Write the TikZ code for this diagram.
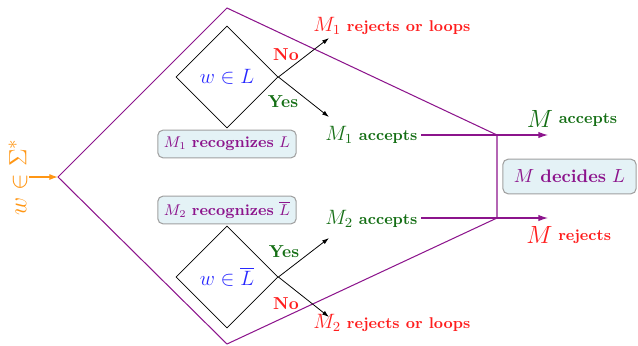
\documentclass[tikz,border=0pt]{standalone}
\usetikzlibrary{shapes.geometric,arrows.meta}
\definecolor{mpurple}{RGB}{140,20,140}
\definecolor{mgreen}{RGB}{20,110,20}
\definecolor{mred}{RGB}{255,30,30}
\definecolor{mblue}{RGB}{40,40,255}
\definecolor{morange}{RGB}{255,150,20}
\definecolor{boxfill}{RGB}{228,242,246}
\definecolor{boxdraw}{RGB}{160,160,160}
\begin{document}
\begin{tikzpicture}[x=0.578pt,y=-0.578pt,
  purp/.style={draw=mpurple,line width=0.6pt},
  purparrow/.style={purp,-{Latex[length=5.5pt,width=3.6pt]}},
  blackarrow/.style={draw=black,line width=0.45pt,-{Latex[length=4pt,width=2.6pt]}},
  decision/.style={diamond,draw=black,line width=0.45pt,minimum width=59pt,minimum height=59pt,inner sep=0pt,text=mblue,font=\fontsize{13}{15}\selectfont},
  infobox/.style={draw=boxdraw,fill=boxfill,rounded corners=3pt,text=mpurple,inner sep=0pt,line width=0.6pt},
  lab/.style={inner sep=2pt,anchor=base west},
  yesno/.style={font=\bfseries,inner sep=0pt}
]
\useasboundingbox (0,0) rectangle (638,345);
% outer purple frame
\coordinate (in) at (58,177);
\coordinate (top) at (227,8);
\coordinate (bot) at (227,344);
\coordinate (j1) at (497,135);
\coordinate (j2) at (497,218);
\coordinate (outA) at (548,135);
\coordinate (outR) at (548,218);
\draw[purp,line join=miter] (in) -- (top) -- (j1) -- (j2) -- (bot) -- cycle;
% decisions
\node[decision] (d1) at (227,77) {$w\in L$};
\node[decision] (d2) at (227,277) {$w\in\overline{L}$};
% boxes
\node[infobox,minimum width=80pt,minimum height=16pt,font=\small] (b1) at (227,144) {$M_1$ \textbf{recognizes} $L$};
\node[infobox,minimum width=80pt,minimum height=16pt,font=\small] (b2) at (227,210) {$M_2$ \textbf{recognizes} $\overline{L}$};
\node[infobox,minimum width=77pt,minimum height=20pt,font=\fontsize{10.5}{12}\selectfont] (b3) at (569.5,176.5) {$M$ \textbf{decides} $L$};
% labels
\node[lab,text=mred] (r1) at (309.5,31) {{\large$M_1$} {\small\bfseries rejects or loops}};
\node[lab,text=mgreen] (a1) at (321.5,140) {{\large$M_1$} {\small\bfseries accepts}};
\node[lab,text=mgreen] (a2) at (321.5,224) {{\large$M_2$} {\small\bfseries accepts}};
\node[lab,text=mred] (r2) at (309.5,328) {{\large$M_2$} {\small\bfseries rejects or loops}};
\node[lab,text=mgreen] (ma) at (523,127) {{\Large$M$}\ \raisebox{2pt}{\small\bfseries accepts}};
\node[lab,text=mred] (mr) at (522.5,243) {{\Large$M$}\ \raisebox{1.5pt}{\small\bfseries rejects}};
% black arrows
\coordinate (t1) at (329,38);
\coordinate (t2) at (329,117);
\coordinate (t3) at (329,238);
\coordinate (t4) at (329,317);
\draw[blackarrow] (d1.east) -- (t1);
\draw[blackarrow] (d1.east) -- (t2);
\draw[blackarrow] (d2.east) -- (t3);
\draw[blackarrow] (d2.east) -- (t4);
\node[yesno,text=mred] (no1) at (286,55) {No};
\node[yesno,text=mgreen] (yes1) at (283,102) {Yes};
\node[yesno,text=mgreen] (yes2) at (284,252) {Yes};
\node[yesno,text=mred] (no2) at (286,304) {No};
% purple connectors
\draw[purp] (a1.east |- j1) -- (j1);
\draw[purp] (a2.east |- j2) -- (j2);
\draw[purparrow] (j1) -- (outA);
\draw[purparrow] (j2) -- (outR);
% input
\node[text=morange,rotate=90,font=\fontsize{15.5}{18}\selectfont,inner sep=1pt] (w) at (18,177) {$w\in\Sigma^*$};
\draw[draw=morange,line width=0.7pt,-{Latex[length=5pt,width=3.5pt]}] (w.south) -- (in);
\end{tikzpicture}
\end{document}
